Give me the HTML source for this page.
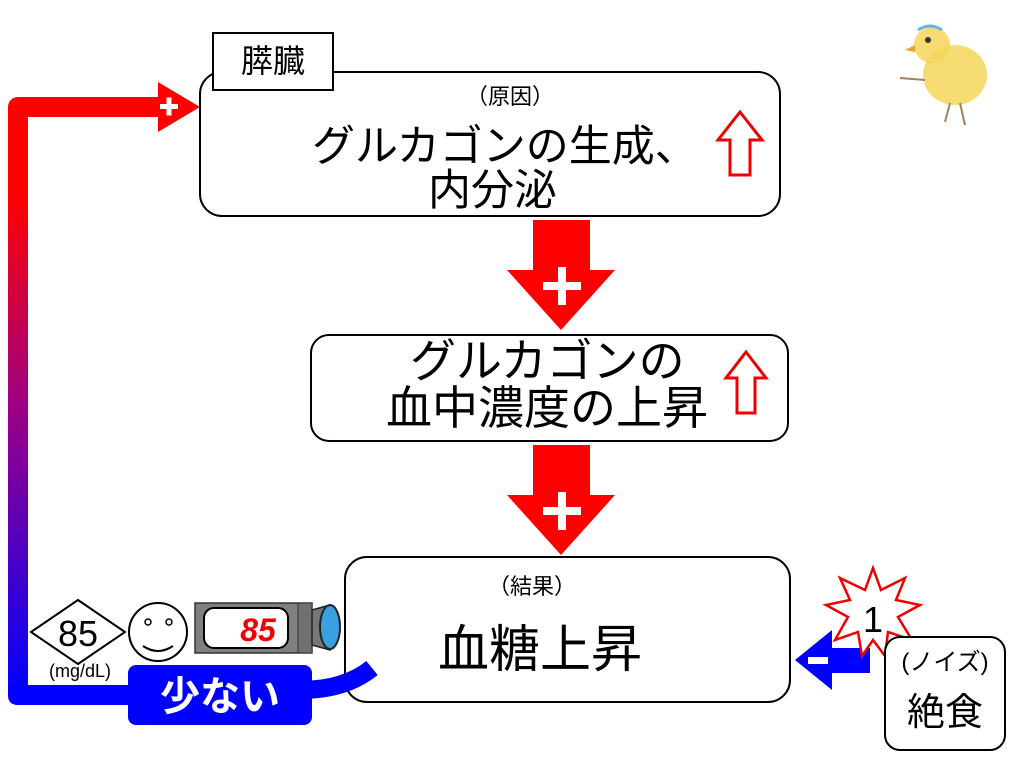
<!DOCTYPE html>
<html><head><meta charset="utf-8"><style>
body{margin:0;width:1015px;height:767px;background:#fff;overflow:hidden;font-family:"Liberation Sans","Noto Sans CJK JP",sans-serif;}
</style></head><body>
<svg width="1015" height="767" viewBox="0 0 1015 767" xmlns="http://www.w3.org/2000/svg" style="position:absolute;left:0;top:0;font-family:'Liberation Sans','Noto Sans CJK JP',sans-serif">
<defs>
<linearGradient id="g" x1="0" y1="1" x2="0" y2="0">
<stop offset="0" stop-color="#0000ff"/><stop offset="0.5" stop-color="#a00080"/><stop offset="0.85" stop-color="#ff0000"/><stop offset="1" stop-color="#ff0000"/>
</linearGradient>
</defs>
<path d="M18 695 V107 H170" fill="none" stroke="url(#g)" stroke-width="20" stroke-linejoin="round"/>
<path d="M8 685 H140 V705 H18 Q8 705 8 695Z" fill="#0000ff"/>
<polygon points="158,82 200,107 158,132" fill="#ff0000"/>
<rect x="160" y="104" width="18" height="5" fill="#fff"/><rect x="166.5" y="97.5" width="5" height="18" fill="#fff"/>
<rect x="200" y="72" width="580" height="144" rx="22" fill="#fff" stroke="#000" stroke-width="2"/>
<rect x="213" y="33" width="120" height="57" fill="#fff" stroke="#000" stroke-width="2"/>
<text x="273" y="72" font-size="32" text-anchor="middle">膵臓</text>
<text x="510" y="104" font-size="22" text-anchor="middle">（原因）</text>
<text x="312" y="161" font-size="43">グルカゴンの生成、</text>
<text x="428" y="205" font-size="43">内分泌</text>
<polygon points="740,112 762,140 750,140 750,175 730,175 730,140 718,140" fill="#fff" stroke="#e00" stroke-width="3"/>
<polygon points="533,220 590,220 590,270 615,270 561,330 507,270 533,270" fill="#ff0000"/>
<rect x="543" y="282" width="38" height="8" fill="#fff"/><rect x="558" y="267" width="8" height="38" fill="#fff"/>
<rect x="311" y="335" width="477" height="106" rx="18" fill="#fff" stroke="#000" stroke-width="2"/>
<text x="410" y="377" font-size="46">グルカゴンの</text>
<text x="386" y="424" font-size="46">血中濃度の上昇</text>
<polygon points="746,352 766,378 755,378 755,413 737,413 737,378 726,378" fill="#fff" stroke="#e00" stroke-width="3"/>
<polygon points="533,445 590,445 590,495 615,495 561,555 507,495 533,495" fill="#ff0000"/>
<rect x="543" y="507" width="38" height="8" fill="#fff"/><rect x="558" y="492" width="8" height="38" fill="#fff"/>
<rect x="345" y="557" width="445" height="145" rx="22" fill="#fff" stroke="#000" stroke-width="2"/>
<text x="532" y="594" font-size="22" text-anchor="middle">（結果）</text>
<text x="540" y="667" font-size="51" text-anchor="middle">血糖上昇</text>
<path d="M300 690 Q345 690 372 668" fill="none" stroke="#0000ff" stroke-width="18"/>
<rect x="128" y="665" width="184" height="60" rx="8" fill="#0000ff"/>
<text x="220" y="710" font-size="40" font-weight="bold" fill="#fff" text-anchor="middle">少ない</text>
<polygon points="78,600 125,632 78,664 31,632" fill="#fff" stroke="#000" stroke-width="2"/>
<text x="78" y="646" font-size="36" text-anchor="middle">85</text>
<text x="80" y="677" font-size="18" text-anchor="middle">(mg/dL)</text>
<circle cx="158" cy="632" r="29" fill="#fff" stroke="#000" stroke-width="2"/>
<circle cx="148" cy="622" r="3" fill="none" stroke="#000" stroke-width="1.5"/><circle cx="169" cy="622" r="3" fill="none" stroke="#000" stroke-width="1.5"/>
<path d="M143 646 Q158 656 173 646" fill="none" stroke="#000" stroke-width="2"/>
<rect x="195" y="603" width="117" height="50" fill="#808080" stroke="#333" stroke-width="1.5"/>
<rect x="204" y="608" width="84" height="40" rx="10" fill="#fff" stroke="#000" stroke-width="2"/>
<text x="258" y="641" font-size="32" font-weight="bold" font-style="italic" fill="#e00" text-anchor="middle">85</text>
<rect x="298" y="603" width="14" height="50" fill="#707070" stroke="#333"/>
<path d="M312 610 L330 605 L330 650 L312 645Z" fill="#777" stroke="#222" stroke-width="1.5"/>
<ellipse cx="330" cy="627" rx="10" ry="22" fill="#3aa0e0" stroke="#222" stroke-width="2"/>
<polygon points="870,648 832,648 832,630 795,660 832,690 832,673 870,673" fill="#0000ff"/>
<rect x="808" y="657" width="20" height="7" fill="#fff"/>
<polygon points="873,568 881,590 905,578 896,600 920,605 898,617 912,640 888,632 885,656 873,640 862,656 858,632 835,640 848,617 826,605 850,600 840,578 865,590" fill="#fff" stroke="#e00" stroke-width="2.5"/>
<text x="873" y="632" font-size="36" text-anchor="middle">1</text>
<rect x="885" y="637" width="120" height="113" rx="15" fill="#fff" stroke="#000" stroke-width="2"/>
<text x="945" y="670" font-size="24" text-anchor="middle">(ノイズ)</text>
<text x="945" y="725" font-size="38" text-anchor="middle">絶食</text>
<ellipse cx="955" cy="75" rx="32" ry="30" fill="#f6d55a" opacity="0.85"/>
<circle cx="932" cy="45" r="18" fill="#f6d55a" opacity="0.85"/>
<circle cx="928" cy="40" r="3" fill="#333"/>
<path d="M915 45 L905 50 L915 52" fill="#f0a030"/>
<path d="M918 30 Q930 22 942 30" fill="none" stroke="#6ab0e0" stroke-width="3"/>
<path d="M960 103 L965 125 M950 103 L945 122 M925 80 L900 78" stroke="#a08060" stroke-width="2" fill="none"/>
</svg>
</body></html>
